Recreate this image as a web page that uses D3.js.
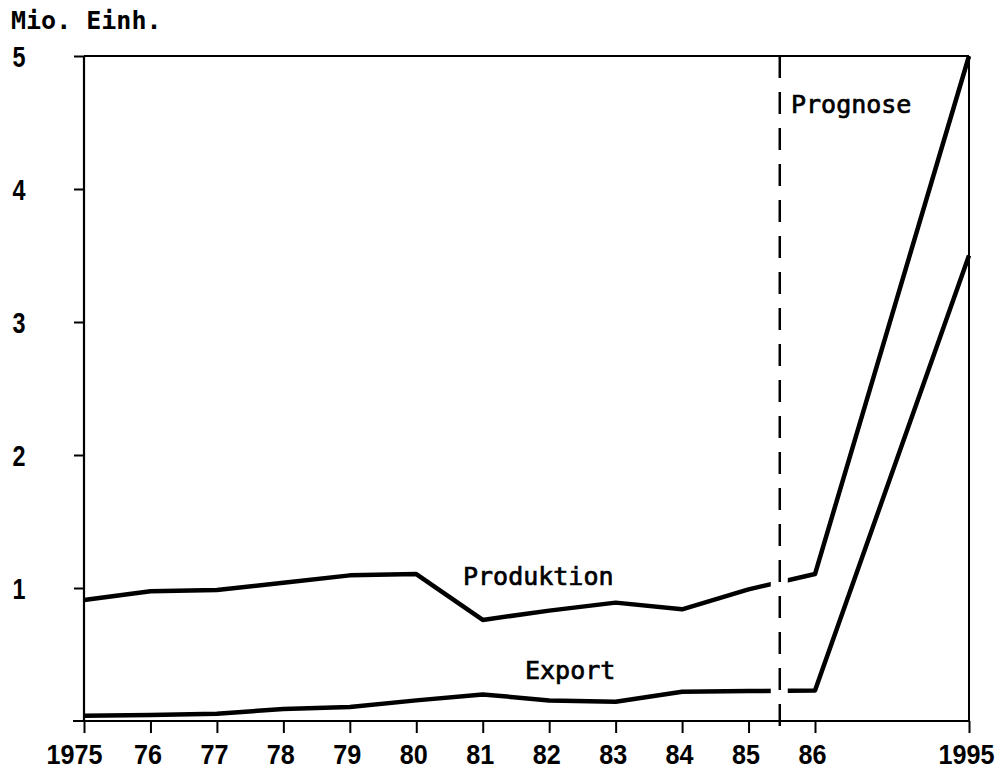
<!DOCTYPE html>
<html>
<head>
<meta charset="utf-8">
<script src="https://cdn.jsdelivr.net/npm/d3@7/dist/d3.min.js"></script>
<style>
  html, body { margin: 0; padding: 0; background: #fff; }
  svg { display: block; }
</style>
</head>
<body>
<svg id="chart" width="1005" height="771"></svg>
<script>
// ---- data ----
const years = [1975, 1976, 1977, 1978, 1979, 1980, 1981, 1982, 1983, 1984, 1985, 1986, 1995];
const xTickLabels = ["1975", "76", "77", "78", "79", "80", "81", "82", "83", "84", "85", "86", "1995"];
const produktion = [0.91, 0.975, 0.985, 1.04, 1.095, 1.105, 0.76, 0.83, 0.89, 0.84, 0.99, 1.105, 5.0];
const exportVals = [0.04, 0.045, 0.055, 0.09, 0.105, 0.155, 0.20, 0.155, 0.145, 0.22, 0.225, 0.23, 3.5];
const yTicks = [1, 2, 3, 4, 5];
const prognoseStart = 1985.5;
const seriesLabels = ["Produktion", "Export"];

// ---- layout ----
const svg = d3.select("#chart");
const mLeft = 84, mRight = 969, mTop = 56, mBottom = 721;

// broken (piecewise-linear) time axis: 1975–1986 yearly, then jump to 1995
const x = d3.scaleLinear().domain([1975, 1986, 1995]).range([mLeft, 815, mRight]);
const y = d3.scaleLinear().domain([0, 5]).range([mBottom, mTop]);

const monoFont = "'DejaVu Sans Mono', monospace";
const numFont = "'Liberation Sans', Arial, sans-serif";

// data lines
const line = d3.line().x((d, i) => x(years[i])).y(d => y(d));
[produktion, exportVals].forEach(s => {
  svg.append("path")
    .datum(s)
    .attr("d", line)
    .attr("fill", "none")
    .attr("stroke", "#000")
    .attr("stroke-width", 4.5)
    .attr("stroke-linejoin", "round");
});

const divX = x(prognoseStart) - 2;

// gap of the lines at the forecast divider
svg.append("rect")
  .attr("x", divX - 9)
  .attr("y", mTop + 4)
  .attr("width", 17)
  .attr("height", mBottom - mTop - 8)
  .attr("fill", "#fff");

// frame: top border and right border
svg.append("line")
  .attr("x1", mLeft).attr("x2", mRight)
  .attr("y1", mTop).attr("y2", mTop)
  .attr("stroke", "#000").attr("stroke-width", 2);
svg.append("line")
  .attr("x1", mRight).attr("x2", mRight)
  .attr("y1", mTop).attr("y2", mBottom)
  .attr("stroke", "#000").attr("stroke-width", 2);

// x axis
const xAxis = d3.axisBottom(x)
  .tickValues(years)
  .tickSize(12)
  .tickSizeOuter(0)
  .tickFormat((d, i) => xTickLabels[i]);
const gx = svg.append("g").attr("transform", `translate(0,${mBottom})`).call(xAxis);
gx.select(".domain").attr("d", `M${mLeft - 11},0H${mRight}`).attr("stroke-width", 2.2);
gx.selectAll(".tick line").attr("stroke-width", 2);
gx.selectAll(".tick text")
  .attr("y", 43)
  .attr("dy", 0)
  .attr("dx", (d, i) => i === 0 ? -10 : -3)
  .attr("font-family", numFont)
  .attr("font-weight", "bold")
  .attr("font-size", 28)
  .attr("fill", "#000")
  .attr("textLength", (d, i) => xTickLabels[i].length * 14)
  .attr("lengthAdjust", "spacingAndGlyphs");

// y axis
const yAxis = d3.axisLeft(y)
  .tickValues(yTicks)
  .tickSize(10)
  .tickSizeOuter(0)
  .tickFormat(d3.format("d"));
const gy = svg.append("g").attr("transform", `translate(${mLeft},0)`).call(yAxis);
gy.select(".domain").attr("d", `M0,${mTop}V${mBottom}`).attr("stroke-width", 2.2);
gy.selectAll(".tick line").attr("stroke-width", 2);
gy.selectAll(".tick text")
  .attr("x", 19 - mLeft)
  .attr("text-anchor", "middle")
  .attr("dy", "0.36em")
  .attr("font-family", numFont)
  .attr("font-weight", "bold")
  .attr("font-size", 29)
  .attr("fill", "#000")
  .attr("textLength", 13)
  .attr("lengthAdjust", "spacingAndGlyphs");

// forecast divider (dashed)
svg.append("line")
  .attr("x1", divX).attr("x2", divX)
  .attr("y1", mTop).attr("y2", mBottom + 12)
  .attr("stroke", "#000")
  .attr("stroke-width", 2.5)
  .attr("stroke-dasharray", "22,14");

// texts
const txt = (s, tx, ty, bold) => svg.append("text")
  .attr("x", tx).attr("y", ty)
  .attr("font-family", monoFont)
  .attr("font-weight", bold ? "bold" : "normal")
  .attr("font-size", 25)
  .attr("fill", "#000")
  .attr("stroke", "#000")
  .attr("stroke-width", bold ? 0 : 0.7)
  .text(s);

txt("Mio. Einh.", 11, 29, true);
txt("Prognose", 791, 113, false);
txt(seriesLabels[0], 463, 585, false);
txt(seriesLabels[1], 525, 679, false);
</script>
</body>
</html>
